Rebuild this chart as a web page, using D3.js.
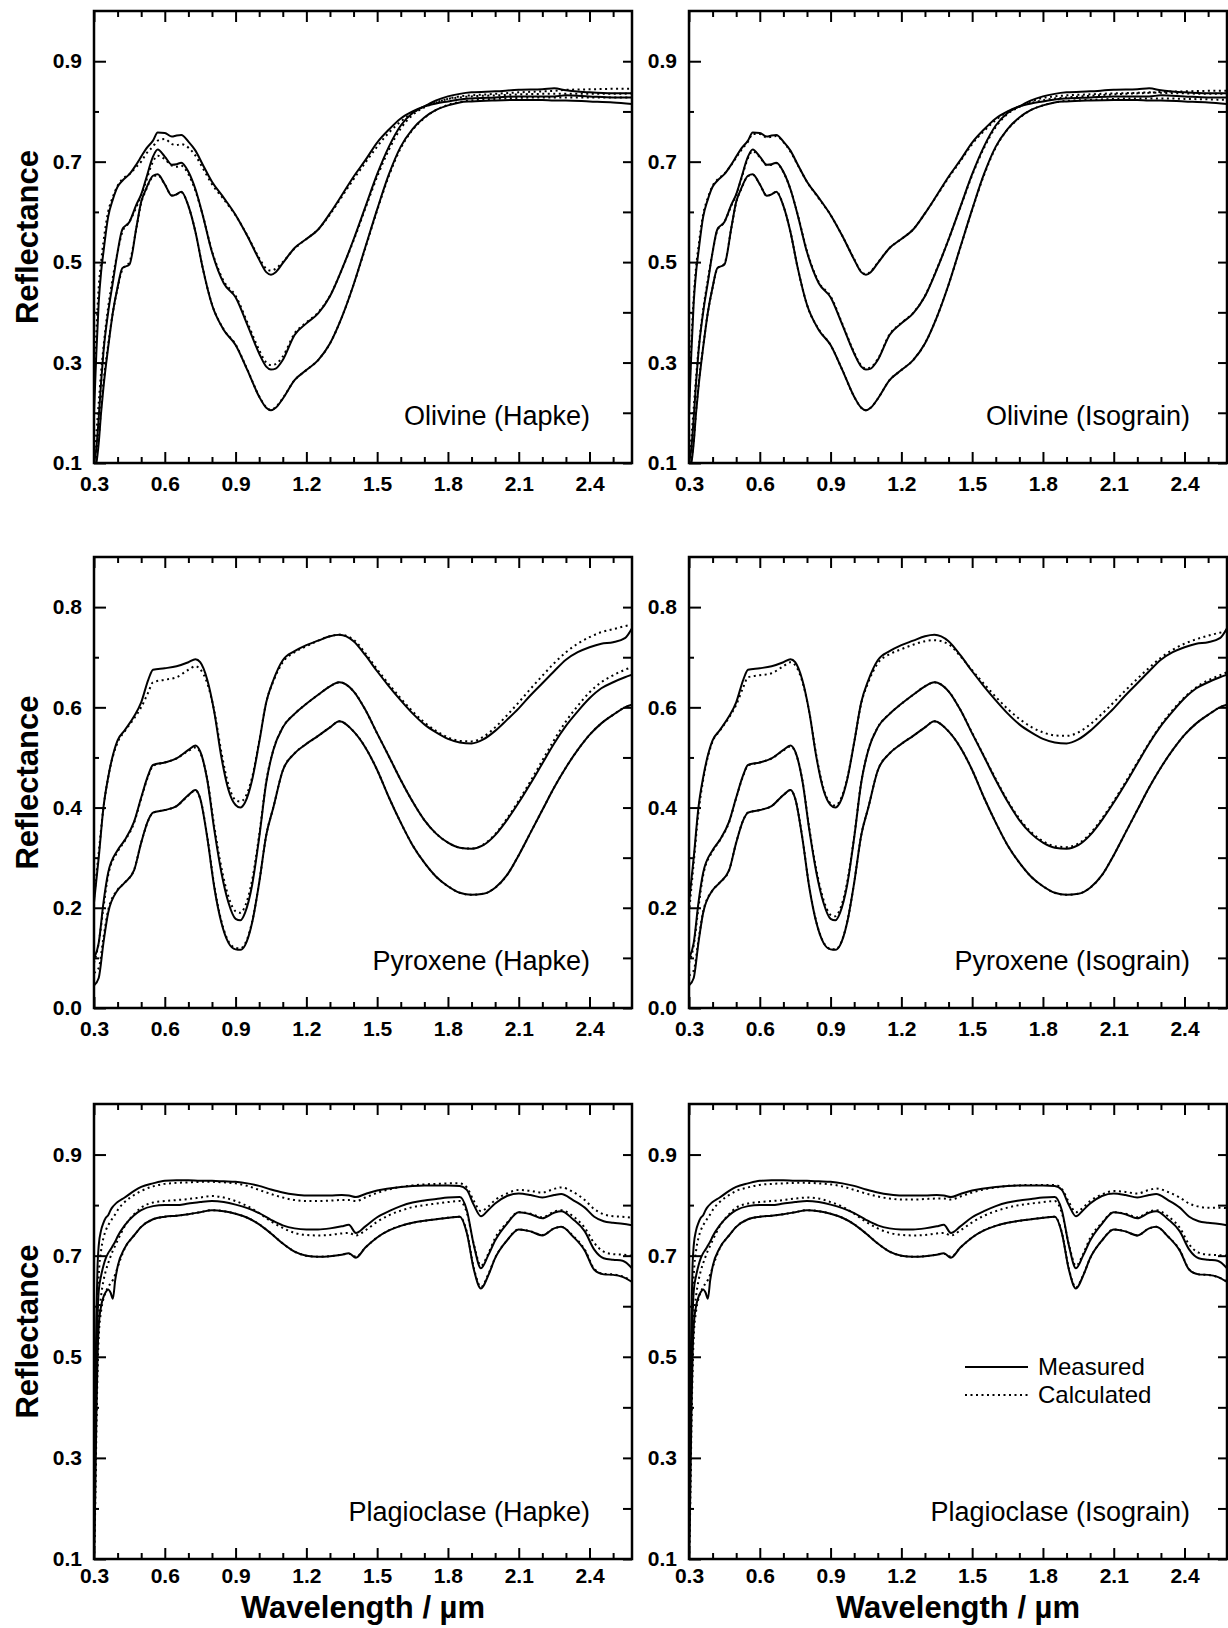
<!DOCTYPE html>
<html>
<head>
<meta charset="utf-8">
<script src="https://cdn.jsdelivr.net/npm/d3@7"></script>
<style>
  body { margin: 0; background: #fff; }
  svg { display: block; }
  text { font-family: "Liberation Sans", Arial, Helvetica, sans-serif; fill: #000; }
</style>
</head>
<body>
<svg id="chart" width="1228" height="1628"></svg>
<script>
// ---- olivine ----
const olWave = [0.30,0.31,0.32,0.33,0.34,0.36,0.38,0.40,0.42,0.45,0.48,0.50,0.52,0.55,0.57,0.60,0.63,0.65,0.67,0.70,0.73,0.76,0.80,0.85,0.90,0.95,1.00,1.03,1.05,1.07,1.10,1.15,1.20,1.25,1.30,1.35,1.40,1.45,1.50,1.55,1.60,1.65,1.70,1.75,1.80,1.85,1.90,2.00,2.10,2.20,2.25,2.30,2.40,2.50,2.58];
const olMeasA = [0.20,0.32,0.42,0.48,0.52,0.59,0.625,0.65,0.662,0.675,0.695,0.71,0.725,0.742,0.758,0.757,0.75,0.752,0.753,0.74,0.722,0.695,0.66,0.628,0.594,0.552,0.505,0.48,0.475,0.48,0.498,0.528,0.546,0.565,0.597,0.633,0.67,0.703,0.738,0.764,0.786,0.80,0.81,0.816,0.82,0.824,0.826,0.828,0.83,0.83,0.83,0.832,0.83,0.828,0.828];
const olMeasB = [0.10,0.13,0.19,0.26,0.32,0.40,0.46,0.52,0.565,0.58,0.615,0.635,0.665,0.71,0.724,0.71,0.694,0.695,0.698,0.68,0.645,0.595,0.52,0.458,0.43,0.375,0.318,0.292,0.286,0.288,0.305,0.355,0.378,0.398,0.432,0.485,0.545,0.61,0.675,0.73,0.772,0.797,0.81,0.822,0.83,0.835,0.838,0.84,0.843,0.844,0.846,0.842,0.838,0.836,0.836];
const olMeasC = [0.09,0.10,0.14,0.20,0.25,0.33,0.40,0.45,0.488,0.495,0.57,0.62,0.645,0.672,0.675,0.655,0.632,0.635,0.64,0.612,0.56,0.49,0.415,0.365,0.335,0.285,0.232,0.21,0.205,0.21,0.228,0.265,0.285,0.305,0.338,0.39,0.455,0.53,0.605,0.675,0.73,0.765,0.788,0.803,0.812,0.818,0.82,0.822,0.823,0.823,0.822,0.822,0.82,0.818,0.815];
const olHapkeA = [0.24,0.36,0.45,0.50,0.54,0.60,0.63,0.652,0.665,0.675,0.69,0.70,0.715,0.73,0.742,0.745,0.735,0.733,0.735,0.728,0.712,0.688,0.655,0.625,0.593,0.553,0.508,0.487,0.483,0.487,0.50,0.527,0.546,0.565,0.595,0.63,0.665,0.698,0.73,0.758,0.78,0.797,0.81,0.818,0.825,0.83,0.832,0.835,0.838,0.84,0.841,0.843,0.844,0.845,0.845];
const olHapkeB = [0.12,0.16,0.22,0.28,0.33,0.41,0.47,0.52,0.56,0.58,0.61,0.632,0.66,0.70,0.712,0.705,0.692,0.69,0.692,0.675,0.642,0.595,0.522,0.462,0.433,0.38,0.325,0.30,0.295,0.297,0.312,0.358,0.38,0.40,0.433,0.485,0.543,0.607,0.67,0.724,0.766,0.793,0.808,0.818,0.825,0.828,0.83,0.832,0.834,0.835,0.835,0.835,0.835,0.835,0.836];
const olHapkeC = [0.10,0.115,0.15,0.21,0.26,0.335,0.40,0.448,0.485,0.50,0.568,0.618,0.643,0.67,0.673,0.655,0.633,0.635,0.639,0.612,0.56,0.49,0.416,0.366,0.336,0.286,0.233,0.211,0.206,0.211,0.229,0.265,0.285,0.305,0.338,0.39,0.455,0.528,0.603,0.672,0.727,0.763,0.787,0.803,0.813,0.819,0.822,0.825,0.827,0.828,0.828,0.828,0.828,0.828,0.828];
const olIsoA = [0.22,0.34,0.43,0.49,0.53,0.595,0.628,0.652,0.664,0.676,0.694,0.708,0.722,0.74,0.755,0.755,0.748,0.75,0.751,0.739,0.72,0.694,0.66,0.627,0.594,0.552,0.506,0.481,0.476,0.481,0.499,0.528,0.546,0.565,0.597,0.632,0.668,0.701,0.735,0.761,0.783,0.799,0.81,0.817,0.822,0.826,0.828,0.831,0.834,0.836,0.837,0.839,0.84,0.841,0.841];
const olIsoB = [0.11,0.15,0.21,0.27,0.325,0.405,0.465,0.52,0.563,0.58,0.613,0.634,0.663,0.707,0.721,0.709,0.693,0.694,0.697,0.679,0.645,0.596,0.522,0.46,0.432,0.377,0.32,0.294,0.288,0.29,0.307,0.356,0.379,0.399,0.433,0.486,0.545,0.609,0.673,0.727,0.769,0.795,0.809,0.82,0.827,0.83,0.832,0.834,0.836,0.837,0.838,0.837,0.836,0.835,0.835];
const olIsoC = [0.10,0.11,0.145,0.205,0.255,0.332,0.40,0.449,0.487,0.497,0.569,0.619,0.644,0.671,0.674,0.655,0.632,0.635,0.64,0.612,0.56,0.49,0.415,0.366,0.335,0.285,0.232,0.21,0.205,0.21,0.228,0.265,0.285,0.305,0.338,0.39,0.455,0.529,0.604,0.673,0.728,0.764,0.787,0.803,0.812,0.818,0.821,0.823,0.825,0.826,0.826,0.826,0.825,0.824,0.823];

// ---- pyroxene ----
const pxWave = [0.30,0.32,0.34,0.36,0.40,0.43,0.47,0.50,0.53,0.55,0.60,0.65,0.70,0.73,0.75,0.78,0.81,0.84,0.87,0.90,0.92,0.94,0.97,1.00,1.03,1.06,1.10,1.15,1.20,1.25,1.30,1.34,1.40,1.45,1.50,1.55,1.60,1.65,1.70,1.75,1.80,1.85,1.90,1.95,2.00,2.05,2.10,2.15,2.20,2.25,2.30,2.35,2.40,2.45,2.50,2.55,2.58];
const pxMeasA = [0.21,0.30,0.40,0.46,0.534,0.554,0.582,0.61,0.655,0.675,0.678,0.682,0.69,0.696,0.69,0.655,0.59,0.50,0.435,0.405,0.40,0.41,0.455,0.53,0.61,0.654,0.694,0.712,0.724,0.733,0.742,0.745,0.732,0.704,0.672,0.642,0.614,0.588,0.566,0.55,0.537,0.53,0.528,0.536,0.553,0.575,0.598,0.624,0.648,0.672,0.695,0.71,0.72,0.727,0.73,0.738,0.758];
const pxMeasB = [0.10,0.13,0.21,0.27,0.315,0.335,0.372,0.42,0.465,0.485,0.49,0.498,0.515,0.524,0.512,0.455,0.355,0.27,0.21,0.178,0.175,0.19,0.245,0.34,0.45,0.515,0.56,0.587,0.607,0.625,0.642,0.65,0.632,0.595,0.548,0.502,0.455,0.412,0.375,0.348,0.33,0.32,0.318,0.325,0.345,0.375,0.41,0.448,0.488,0.528,0.563,0.592,0.618,0.638,0.65,0.66,0.665];
const pxMeasC = [0.045,0.06,0.13,0.19,0.235,0.25,0.275,0.33,0.375,0.39,0.395,0.403,0.425,0.435,0.418,0.34,0.24,0.17,0.13,0.117,0.116,0.125,0.17,0.25,0.345,0.40,0.474,0.508,0.527,0.543,0.56,0.572,0.552,0.52,0.475,0.42,0.37,0.325,0.29,0.262,0.243,0.23,0.226,0.228,0.24,0.265,0.305,0.35,0.395,0.44,0.48,0.515,0.545,0.568,0.585,0.60,0.605];
const pxHapkeA = [0.22,0.31,0.40,0.46,0.53,0.552,0.578,0.60,0.63,0.65,0.655,0.66,0.675,0.682,0.676,0.648,0.592,0.51,0.445,0.415,0.412,0.42,0.46,0.532,0.61,0.652,0.69,0.71,0.722,0.733,0.742,0.745,0.735,0.708,0.676,0.646,0.618,0.592,0.57,0.553,0.54,0.533,0.532,0.541,0.56,0.584,0.61,0.637,0.663,0.688,0.71,0.727,0.74,0.75,0.756,0.762,0.765];
const pxHapkeB = [0.09,0.13,0.20,0.265,0.312,0.333,0.37,0.418,0.463,0.483,0.49,0.498,0.513,0.52,0.51,0.457,0.362,0.28,0.222,0.193,0.19,0.203,0.255,0.345,0.452,0.515,0.56,0.587,0.607,0.625,0.642,0.65,0.632,0.595,0.548,0.502,0.455,0.412,0.375,0.348,0.33,0.32,0.318,0.326,0.347,0.378,0.414,0.453,0.494,0.535,0.572,0.603,0.63,0.65,0.664,0.675,0.68];
const pxHapkeC = [0.07,0.08,0.14,0.195,0.236,0.25,0.276,0.33,0.374,0.39,0.395,0.403,0.424,0.434,0.418,0.342,0.243,0.173,0.133,0.12,0.119,0.128,0.172,0.25,0.345,0.40,0.474,0.508,0.527,0.543,0.56,0.572,0.552,0.52,0.475,0.42,0.37,0.325,0.29,0.262,0.243,0.23,0.226,0.228,0.24,0.265,0.305,0.35,0.395,0.44,0.48,0.515,0.545,0.568,0.585,0.60,0.605];
const pxIsoA = [0.19,0.29,0.39,0.455,0.532,0.553,0.58,0.605,0.64,0.66,0.664,0.668,0.682,0.69,0.684,0.652,0.59,0.503,0.438,0.408,0.404,0.414,0.457,0.53,0.608,0.65,0.688,0.706,0.716,0.725,0.732,0.734,0.726,0.702,0.674,0.647,0.621,0.597,0.577,0.561,0.55,0.544,0.543,0.55,0.566,0.587,0.61,0.634,0.657,0.679,0.699,0.715,0.727,0.736,0.743,0.749,0.752];
const pxIsoB = [0.09,0.125,0.20,0.265,0.313,0.334,0.371,0.419,0.464,0.484,0.49,0.498,0.514,0.522,0.511,0.456,0.358,0.275,0.216,0.186,0.183,0.197,0.25,0.342,0.451,0.515,0.56,0.587,0.607,0.625,0.642,0.65,0.632,0.595,0.549,0.503,0.457,0.414,0.378,0.351,0.333,0.323,0.321,0.328,0.348,0.378,0.413,0.451,0.49,0.529,0.565,0.595,0.62,0.64,0.654,0.664,0.67];
const pxIsoC = [0.065,0.075,0.135,0.192,0.235,0.25,0.275,0.33,0.375,0.39,0.395,0.403,0.425,0.435,0.418,0.341,0.241,0.171,0.131,0.118,0.117,0.126,0.171,0.25,0.345,0.40,0.474,0.508,0.527,0.543,0.56,0.572,0.552,0.52,0.475,0.42,0.37,0.325,0.29,0.262,0.243,0.23,0.226,0.228,0.24,0.265,0.305,0.35,0.395,0.44,0.48,0.515,0.545,0.568,0.585,0.60,0.605];

// ---- plagioclase ----
const plWave = [0.30,0.305,0.31,0.315,0.32,0.33,0.34,0.35,0.36,0.37,0.38,0.39,0.40,0.43,0.47,0.50,0.55,0.60,0.65,0.70,0.75,0.80,0.85,0.90,0.95,1.00,1.05,1.10,1.15,1.20,1.25,1.30,1.35,1.38,1.41,1.45,1.50,1.55,1.60,1.65,1.70,1.75,1.80,1.85,1.88,1.91,1.94,1.97,2.00,2.05,2.10,2.15,2.20,2.25,2.28,2.33,2.38,2.42,2.46,2.50,2.54,2.58];
const plMeasA = [0.10,0.40,0.58,0.68,0.72,0.75,0.765,0.775,0.78,0.79,0.797,0.802,0.806,0.815,0.828,0.836,0.843,0.848,0.849,0.849,0.848,0.848,0.847,0.846,0.843,0.838,0.831,0.825,0.821,0.819,0.819,0.819,0.82,0.819,0.816,0.822,0.829,0.833,0.836,0.838,0.839,0.839,0.839,0.838,0.83,0.80,0.778,0.79,0.803,0.818,0.823,0.82,0.815,0.82,0.822,0.81,0.795,0.777,0.768,0.765,0.763,0.76];
const plMeasB = [0.10,0.30,0.48,0.58,0.63,0.66,0.68,0.695,0.705,0.712,0.72,0.728,0.738,0.76,0.78,0.79,0.798,0.80,0.80,0.803,0.806,0.808,0.806,0.801,0.794,0.784,0.771,0.76,0.754,0.752,0.752,0.754,0.758,0.761,0.745,0.758,0.776,0.788,0.798,0.805,0.809,0.812,0.815,0.816,0.79,0.72,0.675,0.70,0.73,0.763,0.786,0.782,0.774,0.785,0.788,0.772,0.748,0.712,0.695,0.692,0.69,0.675];
const plMeasC = [0.10,0.22,0.38,0.50,0.56,0.60,0.618,0.628,0.633,0.627,0.615,0.652,0.678,0.715,0.74,0.757,0.772,0.777,0.779,0.782,0.786,0.79,0.788,0.783,0.775,0.762,0.744,0.724,0.708,0.70,0.698,0.699,0.702,0.705,0.696,0.716,0.736,0.75,0.759,0.765,0.769,0.772,0.775,0.777,0.745,0.672,0.635,0.66,0.695,0.73,0.752,0.748,0.74,0.754,0.757,0.738,0.71,0.672,0.663,0.662,0.658,0.648];
const plHapkeA = [0.10,0.30,0.48,0.60,0.66,0.71,0.735,0.75,0.76,0.768,0.775,0.782,0.79,0.806,0.82,0.828,0.837,0.842,0.844,0.845,0.846,0.846,0.845,0.843,0.838,0.83,0.822,0.815,0.81,0.808,0.808,0.809,0.81,0.81,0.808,0.815,0.824,0.831,0.836,0.839,0.841,0.842,0.843,0.843,0.835,0.808,0.788,0.797,0.81,0.823,0.83,0.828,0.825,0.832,0.835,0.826,0.81,0.792,0.782,0.778,0.777,0.775];
const plHapkeB = [0.10,0.25,0.40,0.50,0.57,0.62,0.65,0.67,0.685,0.698,0.71,0.72,0.73,0.758,0.782,0.795,0.805,0.808,0.81,0.812,0.815,0.818,0.815,0.808,0.798,0.784,0.768,0.755,0.745,0.741,0.74,0.741,0.744,0.745,0.74,0.75,0.767,0.78,0.789,0.796,0.80,0.803,0.806,0.808,0.785,0.722,0.68,0.703,0.735,0.765,0.786,0.783,0.776,0.787,0.79,0.778,0.755,0.725,0.708,0.703,0.702,0.70];
const plHapkeC = [0.10,0.20,0.35,0.47,0.54,0.59,0.615,0.628,0.638,0.645,0.652,0.663,0.677,0.714,0.74,0.757,0.772,0.777,0.779,0.782,0.786,0.79,0.788,0.783,0.775,0.762,0.744,0.724,0.708,0.70,0.698,0.699,0.702,0.704,0.698,0.716,0.736,0.75,0.759,0.765,0.769,0.772,0.775,0.777,0.747,0.675,0.638,0.662,0.696,0.73,0.752,0.748,0.741,0.754,0.757,0.739,0.712,0.674,0.664,0.663,0.659,0.65];
const plIsoA = [0.10,0.30,0.48,0.60,0.66,0.71,0.735,0.75,0.76,0.768,0.775,0.782,0.79,0.806,0.82,0.828,0.835,0.84,0.842,0.843,0.844,0.844,0.843,0.841,0.837,0.83,0.823,0.817,0.813,0.811,0.811,0.812,0.813,0.813,0.811,0.817,0.825,0.831,0.835,0.838,0.839,0.84,0.84,0.84,0.832,0.806,0.786,0.795,0.808,0.821,0.828,0.826,0.823,0.83,0.833,0.826,0.815,0.803,0.797,0.795,0.795,0.794];
const plIsoB = [0.10,0.25,0.40,0.50,0.57,0.62,0.65,0.67,0.685,0.698,0.71,0.72,0.73,0.758,0.782,0.795,0.803,0.806,0.808,0.81,0.813,0.815,0.813,0.806,0.797,0.783,0.767,0.754,0.745,0.741,0.74,0.741,0.744,0.745,0.74,0.75,0.766,0.779,0.788,0.795,0.80,0.803,0.806,0.808,0.785,0.722,0.68,0.703,0.735,0.765,0.786,0.783,0.776,0.787,0.79,0.778,0.755,0.722,0.706,0.702,0.701,0.70];
const plIsoC = [0.10,0.20,0.35,0.47,0.54,0.59,0.615,0.628,0.638,0.645,0.652,0.663,0.677,0.714,0.74,0.757,0.772,0.777,0.779,0.782,0.786,0.79,0.788,0.783,0.775,0.762,0.744,0.724,0.708,0.70,0.698,0.699,0.702,0.704,0.698,0.716,0.736,0.75,0.759,0.765,0.769,0.772,0.775,0.777,0.746,0.674,0.637,0.661,0.695,0.73,0.752,0.748,0.74,0.754,0.757,0.738,0.711,0.673,0.663,0.662,0.658,0.649];

// axis ticks
const xMajor = [0.3,0.6,0.9,1.2,1.5,1.8,2.1,2.4];
const xMinor = [0.4,0.5,0.7,0.8,1.0,1.1,1.3,1.4,1.6,1.7,1.9,2.0,2.2,2.3,2.5];
const yMajorOdd = [0.1,0.3,0.5,0.7,0.9];
const yMinorOdd = [0.2,0.4,0.6,0.8];
const yMajorEven = [0.0,0.2,0.4,0.6,0.8];
const yMinorEven = [0.1,0.3,0.5,0.7];

// layout
const cols = [{x0: 94, x1: 632, labelInset: 42}, {x0: 689, x1: 1227, labelInset: 37}];
const rows = [
  {y0: 11,   y1: 463,  domain: [0.1, 1.0], major: yMajorOdd,  minor: yMinorOdd,  pad: 13},
  {y0: 557,  y1: 1008, domain: [0.0, 0.9], major: yMajorEven, minor: yMinorEven, pad: 13},
  {y0: 1104, y1: 1559, domain: [0.1, 1.0], major: yMajorOdd,  minor: yMinorOdd,  pad: 9}
];

const minerals = [
  {wave: olWave, meas: [olMeasA, olMeasB, olMeasC], hapke: [olHapkeA, olHapkeB, olHapkeC], iso: [olIsoA, olIsoB, olIsoC], name: "Olivine"},
  {wave: pxWave, meas: [pxMeasA, pxMeasB, pxMeasC], hapke: [pxHapkeA, pxHapkeB, pxHapkeC], iso: [pxIsoA, pxIsoB, pxIsoC], name: "Pyroxene"},
  {wave: plWave, meas: [plMeasA, plMeasB, plMeasC], hapke: [plHapkeA, plHapkeB, plHapkeC], iso: [plIsoA, plIsoB, plIsoC], name: "Plagioclase"}
];
const models = ["Hapke", "Isograin"];

const svg = d3.select("#chart");
const fmt = d3.format(".1f");

minerals.forEach((m, r) => {
  models.forEach((model, c) => {
    const col = cols[c], row = rows[r];
    const x = d3.scaleLinear().domain([0.3, 2.58]).range([col.x0, col.x1]);
    const y = d3.scaleLinear().domain(row.domain).range([row.y1, row.y0]);
    const g = svg.append("g");
    const clipId = "clip-" + r + "-" + c;

    g.append("clipPath").attr("id", clipId)
      .append("rect")
      .attr("x", col.x0).attr("y", row.y0)
      .attr("width", col.x1 - col.x0).attr("height", row.y1 - row.y0);

    const line = d3.line()
      .x(d => x(d[0]))
      .y(d => y(d[1]))
      .curve(d3.curveMonotoneX);

    const calc = model === "Hapke" ? m.hapke : m.iso;
    const plot = g.append("g").attr("clip-path", "url(#" + clipId + ")");

    calc.forEach(series => {
      plot.append("path")
        .datum(m.wave.map((w, i) => [w, series[i]]))
        .attr("d", line)
        .attr("fill", "none")
        .attr("stroke", "#000")
        .attr("stroke-width", 2)
        .attr("stroke-dasharray", "2,3.5");
    });
    m.meas.forEach(series => {
      plot.append("path")
        .datum(m.wave.map((w, i) => [w, series[i]]))
        .attr("d", line)
        .attr("fill", "none")
        .attr("stroke", "#000")
        .attr("stroke-width", 2);
    });

    // axes (ticks point inward)
    const axes = g.append("g").attr("class", "axes");
    axes.append("g").attr("transform", "translate(0," + row.y1 + ")")
      .call(d3.axisBottom(x).tickValues(xMajor).tickSize(-11).tickPadding(row.pad).tickFormat(fmt));
    axes.append("g").attr("transform", "translate(0," + row.y1 + ")")
      .call(d3.axisBottom(x).tickValues(xMinor).tickSize(-6).tickFormat(""));
    axes.append("g").attr("transform", "translate(0," + row.y0 + ")")
      .call(d3.axisTop(x).tickValues(xMajor).tickSize(-11).tickFormat(""));
    axes.append("g").attr("transform", "translate(0," + row.y0 + ")")
      .call(d3.axisTop(x).tickValues(xMinor).tickSize(-6).tickFormat(""));
    axes.append("g").attr("transform", "translate(" + col.x0 + ",0)")
      .call(d3.axisLeft(y).tickValues(row.major).tickSize(-12).tickPadding(12).tickFormat(fmt));
    axes.append("g").attr("transform", "translate(" + col.x0 + ",0)")
      .call(d3.axisLeft(y).tickValues(row.minor).tickSize(-5).tickFormat(""));
    axes.append("g").attr("transform", "translate(" + col.x1 + ",0)")
      .call(d3.axisRight(y).tickValues(row.major.concat(row.minor)).tickSize(-9).tickFormat(""));

    axes.selectAll(".domain").remove();
    axes.selectAll(".tick line").attr("stroke", "#000").attr("stroke-width", 2);
    axes.selectAll(".tick text")
      .style("font-size", "21px")
      .style("font-weight", "bold")
      .style("font-family", "'Liberation Sans', Arial, sans-serif");

    g.append("rect")
      .attr("x", col.x0).attr("y", row.y0)
      .attr("width", col.x1 - col.x0).attr("height", row.y1 - row.y0)
      .attr("fill", "none").attr("stroke", "#000").attr("stroke-width", 2.5);

    g.append("text")
      .attr("x", col.x1 - col.labelInset)
      .attr("y", row.y1 - 38)
      .attr("text-anchor", "end")
      .style("font-size", "27px")
      .text(m.name + " (" + model + ")");

    if (c === 0) {
      svg.append("text")
        .attr("transform", "translate(38," + ((row.y0 + row.y1) / 2) + ") rotate(-90)")
        .attr("text-anchor", "middle")
        .style("font-size", "31px")
        .style("font-weight", "bold")
        .text("Reflectance");
    }

    if (r === 2) {
      svg.append("text")
        .attr("x", (col.x0 + col.x1) / 2)
        .attr("y", 1618)
        .attr("text-anchor", "middle")
        .style("font-size", "31px")
        .style("font-weight", "bold")
        .text("Wavelength / \u00b5m");
    }

    if (r === 2 && c === 1) {
      const lg = g.append("g").attr("transform", "translate(" + (col.x0 + 276) + ",1367)");
      lg.append("line").attr("x1", 0).attr("x2", 63).attr("y1", 0).attr("y2", 0)
        .attr("stroke", "#000").attr("stroke-width", 2);
      lg.append("line").attr("x1", 0).attr("x2", 63).attr("y1", 28).attr("y2", 28)
        .attr("stroke", "#000").attr("stroke-width", 2).attr("stroke-dasharray", "2,3.5");
      lg.append("text").attr("x", 73).attr("y", 8).style("font-size", "24px").text("Measured");
      lg.append("text").attr("x", 73).attr("y", 36).style("font-size", "24px").text("Calculated");
    }
  });
});
</script>
</body>
</html>
